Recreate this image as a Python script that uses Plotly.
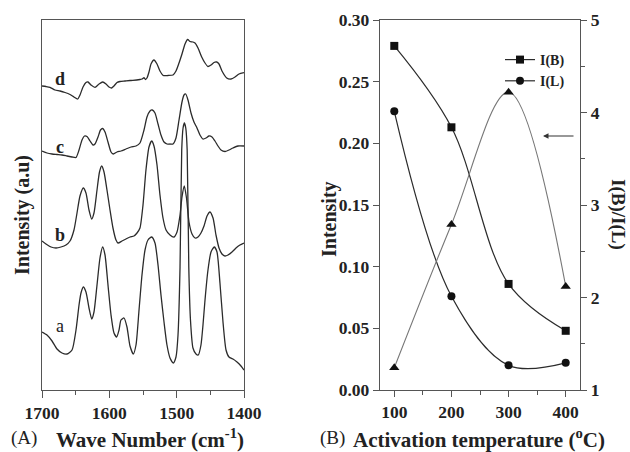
import plotly.graph_objects as go

# ---------------- Panel A: spectra (wavenumber, intensity a.u.) ----------------
wn_a = [1700, 1692.6, 1685.1, 1677.7, 1670.3, 1662.9, 1655.4, 1649.5, 1645.0, 1642.1, 1638.7, 1634.7,
        1630.2, 1626.2, 1622.8, 1618.3, 1613.9, 1609.9, 1606.4, 1602.0, 1597.5, 1593.1, 1589.1, 1585.6,
        1582.7, 1578.2, 1573.8, 1569.3, 1564.4, 1560.4, 1555.9, 1551.5, 1547.0, 1542.6, 1537.1, 1532.2,
        1527.7, 1523.3, 1518.8, 1514.4, 1509.9, 1505.0, 1501.0, 1498.0, 1495.0, 1492.5, 1490.5, 1488.5,
        1486.5, 1484.4, 1482.0, 1479.5, 1475.8, 1471.3, 1467.9, 1463.9, 1460.9, 1457.9, 1453.5, 1449.0,
        1444.1, 1440.1, 1435.7, 1431.2, 1426.7, 1422.3, 1416.4, 1410.4, 1404.5, 1400]
int_a = [58, 55, 49, 41, 37, 36, 40, 60, 85, 97, 103, 98,
         82, 71, 78, 105, 132, 143, 135, 105, 75, 57, 53, 60,
         70, 72, 63, 44, 36, 45, 80, 115, 140, 150, 153, 147,
         125, 95, 68, 45, 32, 27, 33, 55, 123, 240, 262, 267,
         262, 240, 123, 70, 42, 36, 35, 45, 65, 90, 120, 138,
         143, 138, 107, 68, 40, 33, 31, 28, 24, 20]

wn_b = [1700, 1694.1, 1686.6, 1679.2, 1671.8, 1664.4, 1658.4, 1652.5, 1648.0, 1643.6, 1638.7, 1634.7,
        1630.2, 1626.2, 1622.8, 1618.3, 1614.6, 1611.3, 1607.9, 1603.5, 1599.0, 1594.6, 1590.1, 1587.1,
        1581.2, 1575.3, 1569.3, 1563.4, 1558.9, 1554.5, 1550.0, 1545.6, 1541.1, 1537.1, 1533.7, 1529.2,
        1524.8, 1520.3, 1515.8, 1509.9, 1504.0, 1499.5, 1495.0, 1492.1, 1488.7, 1485.4, 1481.7, 1477.2,
        1472.8, 1468.3, 1463.9, 1459.4, 1454.9, 1450.5, 1446.0, 1441.6, 1437.1, 1432.7, 1428.2, 1423.8,
        1417.8, 1411.9, 1406.0, 1400]
int_b = [149, 146, 143, 142, 143, 145, 149, 160, 177, 194, 202, 197,
         180, 171, 177, 200, 218, 224, 218, 200, 180, 162, 150, 147,
         149, 151, 153, 154, 157, 162, 185, 220, 243, 249, 244, 225,
         195, 172, 160, 155, 153, 158, 175, 193, 204, 192, 168, 156,
         152, 153, 157, 164, 174, 178, 172, 155, 142, 136, 134, 135,
         138, 142, 145, 147]

wn_c = [1700, 1692.6, 1685.1, 1677.7, 1670.3, 1662.9, 1655.4, 1649.5, 1645.0, 1640.6, 1636.9, 1633.2,
        1628.7, 1624.3, 1621.3, 1616.8, 1613.1, 1609.9, 1606.4, 1602.0, 1597.5, 1594.1, 1588.6, 1582.7,
        1575.3, 1567.8, 1560.4, 1554.5, 1548.5, 1544.1, 1539.6, 1536.2, 1532.2, 1527.7, 1523.3, 1518.8,
        1514.4, 1509.9, 1505.4, 1501.0, 1496.5, 1492.1, 1489.1, 1486.6, 1483.2, 1478.7, 1474.3, 1469.8,
        1465.4, 1460.9, 1456.4, 1452.0, 1447.5, 1443.1, 1438.6, 1434.2, 1428.2, 1422.3, 1416.4, 1409.0,
        1400]
int_c = [239, 237, 236, 235.5, 235, 234, 233, 232.5, 240, 250, 254, 253.5,
         249, 245, 246, 253, 260, 261.5, 258, 248, 238, 236, 238, 239,
         241, 243, 244, 247, 260, 273, 279, 280, 277, 266, 255, 248,
         246, 246, 246, 252, 270, 288, 295, 296, 290, 277, 268, 262,
         255, 251, 252, 254, 253, 249, 244, 240, 238.5, 240, 242, 244,
         244]

wn_d = [1700, 1694.1, 1688.1, 1680.7, 1673.3, 1665.8, 1658.4, 1652.5, 1647.0, 1643.6, 1639.1, 1634.7,
        1631.7, 1627.2, 1621.3, 1615.3, 1609.9, 1604.9, 1600.5, 1596.5, 1593.1, 1588.6, 1584.2, 1576.7,
        1569.3, 1559.4, 1554.5, 1551.5, 1548.5, 1546.3, 1544.1, 1541.1, 1538.1, 1533.7, 1529.2, 1524.8,
        1519.9, 1512.9, 1505.4, 1501.0, 1496.5, 1492.1, 1487.6, 1483.6, 1480.2, 1475.8, 1472.8, 1468.3,
        1462.8, 1457.9, 1453.5, 1449.0, 1444.6, 1440.6, 1437.1, 1432.7, 1425.7, 1419.3, 1413.3, 1407.4,
        1400]
int_d = [304, 303.5, 302.7, 300, 299, 297.5, 295.5, 293, 291, 295, 303, 307.5,
         308, 305, 302.7, 306, 308, 306, 303, 302, 304, 307.5, 308.5, 309,
         309.5, 310, 310.5, 311, 312.3, 310.5, 312, 318, 326, 330, 326, 319,
         314.5, 314.5, 315, 319, 327, 336, 346, 350.5, 348.5, 348, 347, 342,
         333, 327, 323.5, 325, 327.5, 328, 326, 319, 312, 311, 313, 316,
         317.3]

spec_labels = ["a", "b", "c", "d"]
spec_label_y = [64, 155, 243, 311]

# ---------------- Panel B: intensities vs activation temperature ----------------
temps = [100, 200, 300, 400]
I_B = [0.279, 0.213, 0.086, 0.048]
I_L = [0.226, 0.076, 0.020, 0.022]
ratio = [1.24, 2.79, 4.22, 2.12]

FONT = "Liberation Serif, Times New Roman, serif"
INK = "#2b2b2b"
AXC = "#555555"
TXT = "#222222"

fig = go.Figure()

for wn, iv in [(wn_a, int_a), (wn_b, int_b), (wn_c, int_c), (wn_d, int_d)]:
    fig.add_trace(go.Scatter(x=wn, y=iv, mode="lines", xaxis="x", yaxis="y",
                             line=dict(color=INK, width=1.3, shape="spline", smoothing=0.6),
                             showlegend=False, hoverinfo="skip"))

fig.add_trace(go.Scatter(x=temps, y=I_B, mode="lines+markers", name="I(B)", xaxis="x2", yaxis="y2",
                         line=dict(color=INK, width=1.2, shape="spline", smoothing=1.0),
                         marker=dict(symbol="square", size=8, color="#111111")))
fig.add_trace(go.Scatter(x=temps, y=I_L, mode="lines+markers", name="I(L)", xaxis="x2", yaxis="y2",
                         line=dict(color=INK, width=1.2, shape="spline", smoothing=1.0),
                         marker=dict(symbol="circle", size=8, color="#111111")))
fig.add_trace(go.Scatter(x=temps, y=ratio, mode="lines+markers", name="I(B)/I(L)", xaxis="x2", yaxis="y3",
                         line=dict(color="#777777", width=1.1, shape="spline", smoothing=1.0),
                         marker=dict(symbol="triangle-up", size=9, color="#111111"),
                         showlegend=False))

W, H = 630, 452
def px(x):
    return x / W
def py(y):
    return 1 - y / H

tickfont = dict(family=FONT, size=17.5, color=TXT, weight="bold")
common = dict(showline=True, linecolor=AXC, linewidth=1.3, showgrid=False, zeroline=False,
              ticks="outside", tickcolor=AXC, tickwidth=1.2, tickfont=tickfont, automargin=False)

fig.update_layout(
    template="none",
    width=W, height=H, margin=dict(l=0, r=0, t=0, b=0, pad=0, autoexpand=False),
    paper_bgcolor="white", plot_bgcolor="white",
    font=dict(family=FONT, color=TXT),
    xaxis=dict(domain=[px(42), px(244)], range=[1700, 1400], anchor="y", mirror=True,
               tickvals=[1700, 1600, 1500, 1400], ticklen=7,
               minor=dict(ticks="outside", tickvals=[1650, 1550, 1450], ticklen=4, tickcolor=AXC),
               **common),
    yaxis=dict(domain=[py(390), py(20)], range=[0, 370], anchor="x", mirror=True,
               showline=True, linecolor=AXC, linewidth=1.3, showgrid=False, zeroline=False,
               ticks="", showticklabels=False, automargin=False),
    xaxis2=dict(domain=[px(380), px(580)], range=[75, 425], anchor="y2", mirror=True,
                tickvals=[100, 200, 300, 400], ticklen=6,
                minor=dict(ticks="outside", tickvals=[150, 250, 350], ticklen=4, tickcolor=AXC),
                **common),
    yaxis2=dict(domain=[py(390), py(20)], range=[0, 0.30], anchor="x2",
                tickvals=[0, 0.05, 0.10, 0.15, 0.20, 0.25, 0.30], tickformat=".2f", ticklen=6,
                **common),
    yaxis3=dict(domain=[py(390), py(20)], range=[1, 5], anchor="x2", overlaying="y2", side="right",
                tickvals=[1, 2, 3, 4, 5], ticklen=6,
                minor=dict(ticks="outside", tickvals=[1.5, 2.5, 3.5, 4.5], ticklen=4, tickcolor=AXC),
                **common),
    legend=dict(x=px(500), y=py(44), xanchor="left", yanchor="top", bgcolor="rgba(0,0,0,0)",
                font=dict(family=FONT, size=14, color=TXT, weight="bold"),
                itemwidth=30, tracegroupgap=0),
)

ann = []
# spectrum labels
for lab, yv in zip(spec_labels, spec_label_y):
    ann.append(dict(x=1674, y=yv, xref="x", yref="y", xanchor="center", yanchor="middle",
                    text=lab if lab == "a" else f"<b>{lab}</b>",
                    showarrow=False, font=dict(family=FONT, size=18, color=TXT)))
# axis titles
ann.append(dict(x=px(22), y=py(215), xref="paper", yref="paper", xanchor="center", yanchor="middle",
                text="<b>Intensity (a.u)</b>",
                textangle=-90, showarrow=False, font=dict(family=FONT, size=20, color=TXT)))
ann.append(dict(x=px(9), y=py(438), xref="paper", yref="paper", xanchor="left", yanchor="middle",
                text="(A)", showarrow=False, font=dict(family=FONT, size=19, color=TXT)))
ann.append(dict(x=px(54), y=py(438), xref="paper", yref="paper", xanchor="left", yanchor="middle",
                text="<b>Wave Number (cm<sup>-1</sup>)</b>", showarrow=False,
                font=dict(family=FONT, size=21, color=TXT)))
ann.append(dict(x=px(318), y=py(438), xref="paper", yref="paper", xanchor="left", yanchor="middle",
                text="(B)", showarrow=False, font=dict(family=FONT, size=19, color=TXT)))
ann.append(dict(x=px(351), y=py(438), xref="paper", yref="paper", xanchor="left", yanchor="middle",
                text="<b>Activation temperature (<sup>o</sup>C)</b>", showarrow=False,
                font=dict(family=FONT, size=21, color=TXT)))
ann.append(dict(x=px(329), y=py(219), xref="paper", yref="paper", xanchor="center", yanchor="middle",
                text="<b>Intensity</b>",
                textangle=-90, showarrow=False, font=dict(family=FONT, size=20, color=TXT)))
ann.append(dict(x=px(618), y=py(214), xref="paper", yref="paper", xanchor="center", yanchor="middle",
                text="<b>I(B)/I(L)</b>",
                textangle=90, showarrow=False, font=dict(family=FONT, size=19, color=TXT)))
# arrow pointing to right axis
ann.append(dict(x=px(543), y=py(136), xref="paper", yref="paper", ax=32, ay=0, text="",
                showarrow=True, arrowhead=2, arrowsize=1, arrowwidth=1.1, arrowcolor="#333333"))
fig.update_layout(annotations=ann)

fig.write_html("out.html", config={"displayModeBar": False},
               post_script="document.body.style.margin='0';document.body.style.overflow='hidden';")
